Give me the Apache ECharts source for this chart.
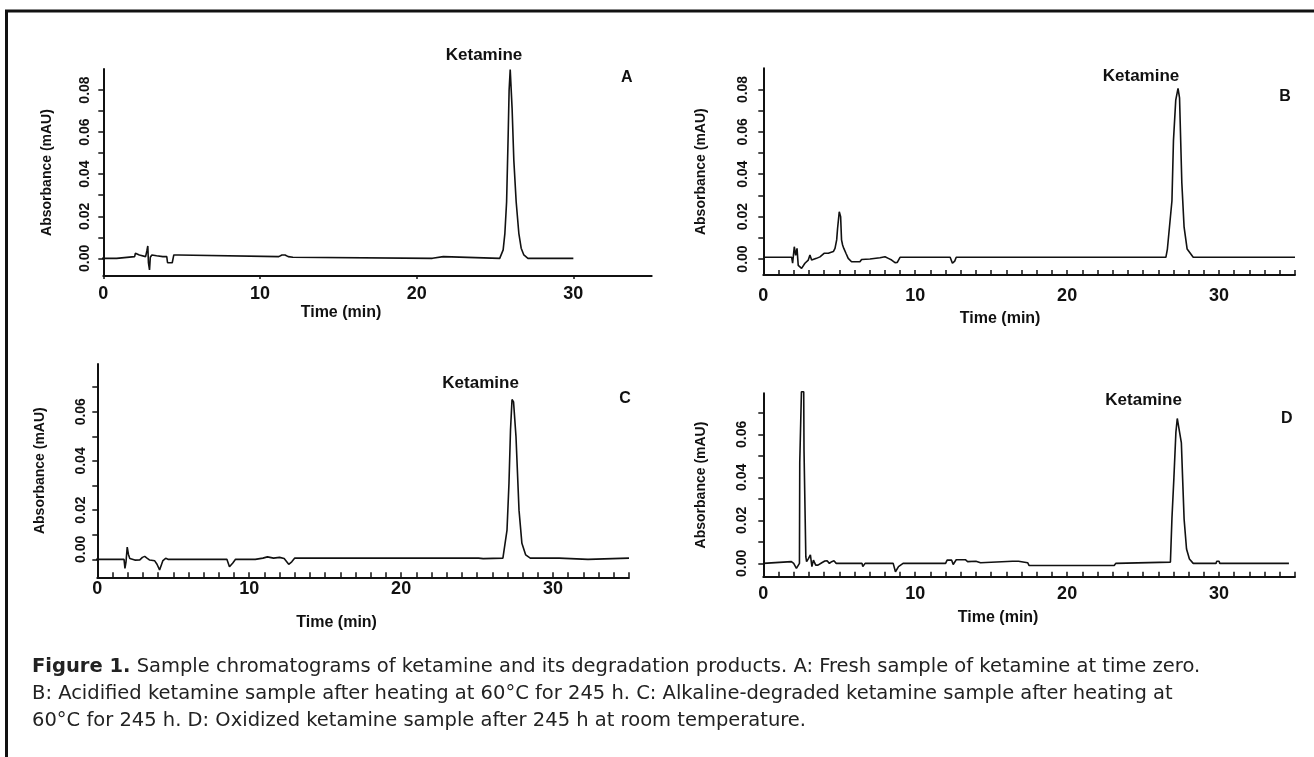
<!DOCTYPE html>
<html>
<head>
<meta charset="utf-8">
<script src="https://cdn.jsdelivr.net/npm/echarts@6/dist/echarts.min.js"></script>
<style>
html,body{margin:0;padding:0;background:#fff;}
#chart{width:1314px;height:757px;}
</style>
</head>
<body>
<div id="chart"></div>
<script>
// ---- Data (time in min, absorbance in mAU) ----
const panelA = [[-0.6,0],[0.85,0],[0.88,0.0008],[2.0,0.0008],[2.05,0.0024],[2.3,0.0016],[2.4,0.0008],[2.7,0.0008],[2.78,0.0035],[2.84,0.0059],[2.88,-0.002],[2.95,-0.0055],[3.0,0.0005],[3.1,0.0016],[3.4,0.0012],[3.8,0.0008],[4.05,0.0008],[4.1,-0.0021],[4.4,-0.0021],[4.5,0.0016],[4.8,0.0016],[4.85,0.0008],[11.2,0.0008],[11.4,0.0016],[11.6,0.0016],[11.8,0.0008],[12.1,0.0005],[12.2,0],[21.0,0],[21.05,0.0008],[21.7,0.0008],[21.75,0],[25.3,0],[25.4,0.0008],[25.52,0.004],[25.63,0.0119],[25.74,0.0269],[25.84,0.0586],[25.9,0.080],[25.97,0.0898],[26.05,0.0898],[26.09,0.0713],[26.2,0.0467],[26.35,0.0269],[26.52,0.0119],[26.67,0.0048],[26.84,0.0016],[27.1,0],[30,0]];

const panelB = [[0,0.0008],[1.87,0.0008],[1.93,-0.002],[2.04,0.0058],[2.13,0.0017],[2.22,0.005],[2.3,-0.003],[2.52,-0.0044],[2.74,-0.002],[2.96,-0.0005],[3.07,0.0019],[3.18,-0.0005],[3.5,0.0003],[3.73,0.001],[4.0,0.0027],[4.28,0.0027],[4.61,0.0035],[4.72,0.005],[4.83,0.009],[4.89,0.0145],[5.0,0.0223],[5.09,0.02],[5.15,0.009],[5.22,0.0066],[5.3,0.005],[5.44,0.0027],[5.59,0.0003],[5.81,-0.0013],[6.36,-0.0013],[6.47,-0.0002],[7.02,0],[7.06,0.0003],[7.68,0.0006],[8.01,0.0011],[8.23,0.0003],[8.45,-0.0005],[8.67,-0.0017],[8.82,-0.0016],[9.0,0.0008],[12.3,0.0008],[12.45,-0.002],[12.6,-0.001],[12.7,0.0008],[26.5,0.0008],[26.6,0.0047],[26.9,0.0275],[27.0,0.056],[27.15,0.075],[27.3,0.0805],[27.35,0.08],[27.4,0.076],[27.55,0.036],[27.7,0.015],[27.9,0.0047],[28.3,0.0008],[35,0.0008]];

const panelC = [[-0.7,0],[1.76,0],[1.82,-0.0037],[1.89,-0.001],[1.97,0.005],[2.05,0.002],[2.14,0.0003],[2.47,-0.0003],[2.8,-0.0002],[2.97,0.0008],[3.12,0.0012],[3.27,0.0005],[3.45,-0.0003],[3.78,-0.0006],[3.93,-0.002],[4.1,-0.0043],[4.2,-0.004],[4.32,-0.0005],[4.5,0.0004],[4.65,0],[8.53,0],[8.7,-0.003],[8.92,-0.0015],[9.1,0],[10.4,0],[10.45,0.0008],[10.9,0.0005],[11.2,0.001],[11.6,0.0005],[12.0,0.0008],[12.3,0.0003],[12.6,-0.002],[12.8,-0.001],[13.0,0.0005],[23.5,0.0005],[23.55,-0.0003],[23.6,0.0005],[25.1,0.0005],[25.15,-0.0003],[25.4,0.0003],[26.7,0.0005],[26.97,0.0119],[27.1,0.031],[27.2,0.0526],[27.3,0.065],[27.4,0.064],[27.56,0.05],[27.76,0.02],[27.95,0.0065],[28.2,0.0018],[28.5,0.0005],[30.4,0.0005],[30.45,0],[32.3,0],[32.35,0.0005],[35,0.0005]];

const panelD = [[0,0],[1.85,0.0008],[2.0,0],[2.18,-0.0023],[2.3,-0.0015],[2.38,0],[2.4,0.047],[2.5,0.047],[2.51,0.0798],[2.66,0.0798],[2.68,0.0526],[2.78,0.0526],[2.8,0.003],[2.85,0.0008],[2.98,0.0023],[3.1,0.004],[3.2,-0.0015],[3.3,0.0015],[3.45,-0.0008],[3.6,-0.0008],[3.85,0.0003],[4.05,0.0011],[4.2,0.0012],[4.35,0],[4.5,0.0008],[4.65,0.0012],[4.8,0],[6.5,0],[6.55,-0.0015],[6.7,0],[8.55,0],[8.7,-0.0039],[8.9,-0.0015],[9.2,0],[12.0,0],[12.1,0.0015],[12.4,0.0015],[12.5,-0.0005],[12.7,0.0017],[13.3,0.0017],[13.45,0.0008],[14.0,0.001],[14.3,0.0003],[16.4,0.001],[16.8,0.001],[17.4,0.0003],[17.5,-0.001],[23.1,-0.001],[23.2,0],[26.8,0.0006],[26.9,0.021],[27.03,0.04],[27.16,0.061],[27.25,0.0674],[27.38,0.067],[27.52,0.056],[27.6,0.04],[27.7,0.0206],[27.86,0.0067],[28.05,0.002],[28.3,0],[29.8,0],[29.85,0.001],[30.0,0.001],[30.05,0],[34.6,0]];

// ---- Tick labels ----
const xLabelValues = [0, 10, 20, 30];
const xMinorTickValues = [0,1,2,3,4,5,6,7,8,9,10,11,12,13,14,15,16,17,18,19,20,21,22,23,24,25,26,27,28,29,30,31,32,33,34,35];
const yTicksAB = [0, 0.01, 0.02, 0.03, 0.04, 0.05, 0.06, 0.07, 0.08];
const yLabelsAB = [0, 0.02, 0.04, 0.06, 0.08];
const yTicksCD = [0, 0.01, 0.02, 0.03, 0.04, 0.05, 0.06, 0.07];
const yLabelsCD = [0, 0.02, 0.04, 0.06];

const panelLetters = ['A', 'B', 'C', 'D'];
const peakName = 'Ketamine';
const xName = 'Time (min)';
const yName = 'Absorbance (mAU)';
const captionBold = 'Figure 1.';
const captionLines = [
  ' Sample chromatograms of ketamine and its degradation products. A: Fresh sample of ketamine at time zero.',
  'B: Acidified ketamine sample after heating at 60°C for 245 h. C: Alkaline-degraded ketamine sample after heating at',
  '60°C for 245 h. D: Oxidized ketamine sample after 245 h at room temperature.'
];

// ---- Layout ----
const INK = '#111';
const FONT = "'Liberation Sans', Arial, sans-serif";
const panels = [
  {data: panelA, grid: {left: 103.3, top: 69, width: 548.4, height: 207}, ymin: -0.0084, ymax: 0.090, yTicks: yTicksAB, yLabels: yLabelsAB, minor: false,
   ylabMargin: 11, yNameGap: 49, xlabMargin: 9, xNameGap: 29, xNamePad: 73, zeroShift: 0},
  {data: panelB, grid: {left: 763.3, top: 68.3, width: 531.7, height: 206.7}, ymin: -0.00755, ymax: 0.090, yTicks: yTicksAB, yLabels: yLabelsAB, minor: true,
   ylabMargin: 13, yNameGap: 55, xlabMargin: 12, xNameGap: 36, xNamePad: 58, zeroShift: 0},
  {data: panelC, grid: {left: 97.3, top: 364, width: 531.7, height: 213.3}, ymin: -0.0073, ymax: 0.0794, yTicks: yTicksCD, yLabels: yLabelsCD, minor: true,
   ylabMargin: 9, yNameGap: 50, xlabMargin: 3, xNameGap: 37, xNamePad: 53, zeroShift: 20},
  {data: panelD, grid: {left: 763.3, top: 393.3, width: 531.7, height: 183.4}, ymin: -0.0062, ymax: 0.0791, yTicks: yTicksCD, yLabels: yLabelsCD, minor: true,
   ylabMargin: 14, yNameGap: 55, xlabMargin: 8, xNameGap: 33, xNamePad: 62, zeroShift: 0}
];
const annotations = [
  {peak: [484, 55], letter: [626.7, 78]},
  {peak: [1141, 76.7], letter: [1285, 96.7]},
  {peak: [480.6, 383.3], letter: [625, 398.3]},
  {peak: [1143.6, 400], letter: [1286.8, 418.3]}
];

const grids = [], xAxes = [], yAxes = [], series = [], graphics = [];
panels.forEach((p, i) => {
  grids.push(Object.assign({}, p.grid));
  xAxes.push({
    type: 'value', gridIndex: i, min: 0, max: 35,
    name: xName, nameLocation: 'middle', nameGap: p.xNameGap,
    nameTextStyle: {fontFamily: FONT, fontWeight: 'bold', fontSize: 16, color: INK, padding: [0, p.xNamePad, 0, 0]},
    axisLine: {onZero: false, lineStyle: {color: INK, width: 2}},
    axisTick: p.minor ? {show: true, inside: true, length: 5, customValues: xMinorTickValues, lineStyle: {color: INK, width: 1.5}}
                      : {show: true, inside: false, length: 3, customValues: xLabelValues, lineStyle: {color: INK, width: 1.5}},
    axisLabel: {customValues: xLabelValues, margin: p.xlabMargin, fontFamily: FONT, fontWeight: 'bold', fontSize: 18, color: INK},
    splitLine: {show: false}
  });
  const labStyle = {fontFamily: FONT, fontWeight: 'bold', fontSize: 14, color: INK};
  yAxes.push({
    type: 'value', gridIndex: i, min: p.ymin, max: p.ymax,
    name: yName, nameLocation: 'middle', nameGap: p.yNameGap,
    nameTextStyle: {fontFamily: FONT, fontWeight: 'bold', fontSize: 14, color: INK},
    axisLine: {onZero: false, lineStyle: {color: INK, width: 2}},
    axisTick: {show: true, inside: false, length: 5, customValues: p.yTicks, lineStyle: {color: INK, width: 1.5}},
    axisLabel: Object.assign({customValues: p.yLabels, rotate: 90, margin: p.ylabMargin,
      formatter: v => (p.zeroShift && Math.abs(v) < 1e-9) ? '{z|' + v.toFixed(2) + '}' : v.toFixed(2),
      rich: {z: Object.assign({padding: [0, 0, 0, p.zeroShift]}, labStyle)}}, labStyle),
    splitLine: {show: false}
  });
  series.push({
    type: 'line', xAxisIndex: i, yAxisIndex: i, data: p.data,
    showSymbol: false, symbol: 'none', clip: false, animation: false,
    lineStyle: {color: INK, width: 1.6}
  });
  const a = annotations[i];
  graphics.push({type: 'text', x: a.peak[0], y: a.peak[1],
    style: {text: peakName, fontFamily: FONT, fontWeight: 'bold', fontSize: 17, fill: INK, align: 'center', verticalAlign: 'middle'}});
  graphics.push({type: 'text', x: a.letter[0], y: a.letter[1],
    style: {text: panelLetters[i], fontFamily: FONT, fontWeight: 'bold', fontSize: 16, fill: INK, align: 'center', verticalAlign: 'middle'}});
});

// frame (left + top border)
graphics.push({type: 'polyline', shape: {points: [[6.5, 757], [6.5, 11], [1314, 11]]},
  style: {stroke: '#111', lineWidth: 3, fill: null}});

// caption
const capFont = "'DejaVu Sans', 'Open Sans', sans-serif";
const capSize = 19.5;
const capY = [667, 694, 721];
graphics.push({type: 'text', x: 32, y: capY[0], style: {
  text: '{b|' + captionBold + '}' + captionLines[0],
  fontFamily: capFont, fontSize: capSize, fill: '#222', verticalAlign: 'middle', align: 'left',
  rich: {b: {fontFamily: capFont, fontSize: capSize, fontWeight: 'bold', fill: '#222'}}
}});
graphics.push({type: 'text', x: 32, y: capY[1], style: {text: captionLines[1], fontFamily: capFont, fontSize: capSize, fill: '#222', verticalAlign: 'middle', align: 'left'}});
graphics.push({type: 'text', x: 32, y: capY[2], style: {text: captionLines[2], fontFamily: capFont, fontSize: capSize, fill: '#222', verticalAlign: 'middle', align: 'left'}});

const chart = echarts.init(document.getElementById('chart'), null, {renderer: 'canvas'});
chart.setOption({
  backgroundColor: '#fff',
  animation: false,
  grid: grids, xAxis: xAxes, yAxis: yAxes, series: series,
  graphic: graphics
});
</script>
</body>
</html>
